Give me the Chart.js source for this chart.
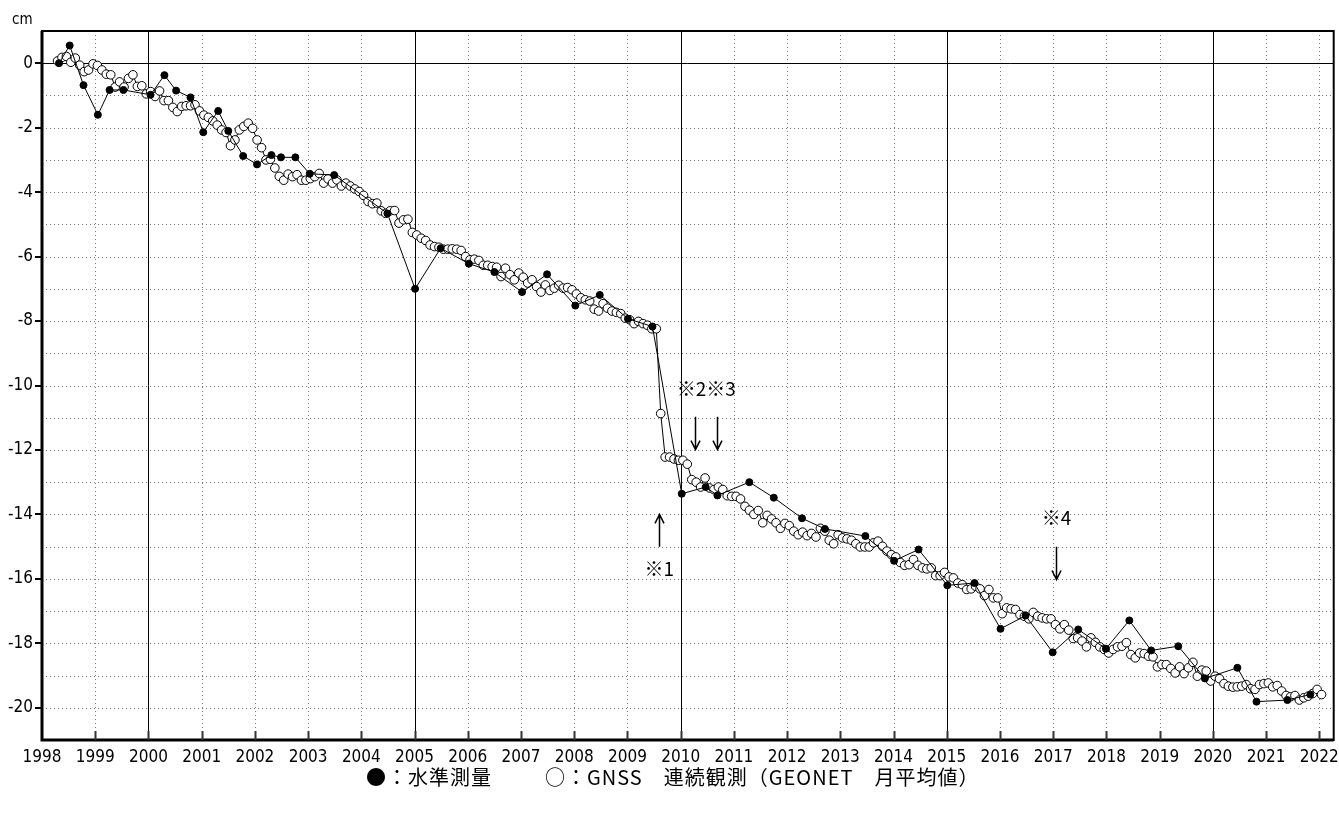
<!DOCTYPE html>
<html>
<head>
<meta charset="utf-8">
<script src="https://cdn.jsdelivr.net/npm/chart.js@4/dist/chart.umd.min.js"></script>
<style>
  html, body { margin: 0; padding: 0; background: #fff; }
</style>
</head>
<body>
<canvas id="chart" width="1339" height="820"></canvas>
<script>
// GNSS (GEONET) monthly means, cm, starting April 1998 - one row per calendar year
const gnssFirstYear = 1998;
const gnssFirstMonth = 4;
const gnssMonthly = [
    [0.07, 0.18, 0.21, 0.03, 0.16, -0.06, -0.26, -0.21, -0.02],                                   // 1998 (Apr-Dec)
    [-0.07, -0.21, -0.34, -0.36, -0.74, -0.58, -0.74, -0.47, -0.36, -0.72, -0.70, -0.95],          // 1999
    [-0.88, -1.03, -0.86, -1.16, -1.16, -1.37, -1.50, -1.34, -1.32, -1.32, -1.29, -1.48],          // 2000
    [-1.61, -1.68, -1.79, -1.92, -2.07, -2.15, -2.56, -2.38, -2.07, -1.96, -1.86, -2.02],          // 2001
    [-2.38, -2.62, -3.00, -2.98, -3.25, -3.51, -3.63, -3.44, -3.52, -3.46, -3.63, -3.63],          // 2002
    [-3.58, -3.52, -3.42, -3.72, -3.59, -3.72, -3.62, -3.81, -3.72, -3.81, -3.90, -3.98],          // 2003
    [-4.10, -4.29, -4.36, -4.34, -4.58, -4.66, -4.58, -4.57, -4.96, -4.86, -4.84, -5.25],          // 2004
    [-5.33, -5.43, -5.50, -5.64, -5.69, -5.71, -5.77, -5.77, -5.76, -5.77, -5.81, -6.00],          // 2005
    [-6.10, -6.08, -6.12, -6.27, -6.27, -6.31, -6.33, -6.62, -6.36, -6.56, -6.72, -6.51],          // 2006
    [-6.64, -6.82, -6.72, -6.93, -7.10, -6.88, -7.05, -6.98, -6.89, -6.98, -6.96, -7.03],          // 2007
    [-7.16, -7.28, -7.34, -7.38, -7.63, -7.69, -7.46, -7.60, -7.69, -7.73, -7.77, -7.91],          // 2008
    [-7.96, -8.08, -8.01, -8.08, -8.13, -8.24, -8.24, -10.87, -12.22, -12.22, -12.28, -12.32],     // 2009
    [-12.32, -12.44, -12.92, -13.00, -13.15, -12.87, -13.18, -13.23, -13.15, -13.23, -13.42, -13.44], // 2010
    [-13.44, -13.52, -13.75, -13.87, -14.00, -13.88, -14.26, -14.03, -14.14, -14.26, -14.43, -14.28], // 2011
    [-14.35, -14.52, -14.63, -14.55, -14.66, -14.59, -14.70, -14.43, -14.52, -14.80, -14.91, -14.63], // 2012
    [-14.73, -14.76, -14.80, -14.91, -15.01, -15.01, -15.01, -14.88, -14.83, -14.99, -15.14, -15.25], // 2013
    [-15.32, -15.49, -15.58, -15.56, -15.40, -15.58, -15.66, -15.69, -15.66, -15.90, -15.90, -15.80], // 2014
    [-15.94, -15.97, -16.13, -16.18, -16.33, -16.31, -16.23, -16.31, -16.52, -16.33, -16.59, -16.59], // 2015
    [-17.08, -16.90, -16.93, -16.95, -17.11, -17.16, -17.24, -17.04, -17.16, -17.21, -17.24, -17.24], // 2016
    [-17.42, -17.55, -17.42, -17.59, -17.85, -17.83, -17.93, -18.11, -17.83, -17.97, -18.11, -18.19], // 2017
    [-18.30, -18.19, -18.11, -18.09, -17.98, -18.35, -18.45, -18.30, -18.32, -18.40, -18.42, -18.73], // 2018
    [-18.66, -18.66, -18.78, -18.92, -18.73, -18.94, -18.76, -18.59, -19.02, -18.83, -18.86, -19.17], // 2019
    [-19.02, -19.10, -19.25, -19.33, -19.36, -19.35, -19.33, -19.28, -19.41, -19.43, -19.28, -19.25], // 2020
    [-19.23, -19.35, -19.31, -19.48, -19.62, -19.66, -19.62, -19.76, -19.69, -19.64, -19.56, -19.43], // 2021
    [-19.59]                                                                                      // 2022 (Jan)
];

// levelling survey (水準測量): survey dates as decimal years, heights in cm
const levelingDates = [
    1998.32, 1998.52, 1998.78, 1999.05, 1999.27, 1999.53, 2000.04, 2000.30, 2000.52, 2000.79,
    2001.03, 2001.31, 2001.50, 2001.78, 2002.04, 2002.31, 2002.49, 2002.76, 2003.03, 2003.49,
    2004.49, 2005.01, 2005.49, 2006.02, 2006.50, 2007.02, 2007.49, 2008.02, 2008.48, 2009.01,
    2009.47, 2010.02, 2010.47, 2010.69, 2011.29, 2011.75, 2012.28, 2012.71, 2013.47, 2014.01,
    2014.47, 2015.01, 2015.52, 2016.01, 2016.48, 2016.99, 2017.47, 2017.99, 2018.43, 2018.84,
    2019.35, 2019.85, 2020.46, 2020.82, 2021.40, 2021.83
];
const levelingValues = [
    0.00, 0.55, -0.68, -1.60, -0.83, -0.83, -0.98, -0.37, -0.85, -1.06,
    -2.14, -1.48, -2.10, -2.88, -3.14, -2.85, -2.92, -2.92, -3.43, -3.47,
    -4.66, -7.00, -5.74, -6.22, -6.48, -7.10, -6.55, -7.52, -7.19, -7.93,
    -8.17, -13.36, -13.15, -13.41, -13.00, -13.48, -14.12, -14.45, -14.67, -15.44,
    -15.09, -16.20, -16.13, -17.55, -17.14, -18.28, -17.57, -18.17, -17.29, -18.22,
    -18.09, -19.09, -18.76, -19.81, -19.76, -19.59
];

// axis ranges, year tick labels and the years drawn with a solid line
const xRange = [1998, 2022.27];
const yRange = [-21, 1];
const yearTicks = [1998, 1999, 2000, 2001, 2002, 2003, 2004, 2005, 2006, 2007, 2008, 2009,
    2010, 2011, 2012, 2013, 2014, 2015, 2016, 2017, 2018, 2019, 2020, 2021, 2022];
const majorYears = [2000, 2005, 2010, 2015, 2020];

// notes: label text and arrows (in data units)
const noteLabels = [
    { text: '※1', x: 2009.6, y: -15.68 },
    { text: '※2※3', x: 2010.48, y: -10.1 },
    { text: '※4', x: 2017.06, y: -14.1 }
];
const noteArrows = [
    { x: 2009.6, from: -15.0, to: -14.0 },
    { x: 2010.27, from: -10.97, to: -11.99 },
    { x: 2010.69, from: -10.97, to: -11.99 },
    { x: 2017.06, from: -15.0, to: -16.02 }
];
const legendLabels = ['●：水準測量', '○：GNSS　連続観測（GEONET　月平均値）'];
const unitLabel = 'cm';

const tickFont = "'Liberation Sans Narrow', 'DejaVu Sans Condensed', sans-serif";
const jpFont = "'Noto Sans CJK JP', sans-serif";

const gnssPoints = [];
gnssMonthly.forEach((row, r) => {
    row.forEach((v, m) => {
        const month = (r === 0 ? gnssFirstMonth : 1) + m;
        gnssPoints.push({ x: gnssFirstYear + r + (month - 0.5) / 12, y: v });
    });
});
const levelingPoints = levelingDates.map((d, i) => ({ x: d, y: levelingValues[i] }));

function arrow(ctx, px, y0, y1) {
    const dir = y1 > y0 ? 1 : -1;
    ctx.beginPath();
    ctx.moveTo(px, y0);
    ctx.lineTo(px, y1);
    ctx.moveTo(px - 4.5, y1 - dir * 9);
    ctx.lineTo(px, y1);
    ctx.lineTo(px + 4.5, y1 - dir * 9);
    ctx.stroke();
}

const chartDecor = {
    id: 'chartDecor',
    beforeDatasetsDraw(chart) {
        const { ctx, chartArea: a, scales: { x, y } } = chart;
        ctx.save();
        ctx.lineWidth = 1;
        // dotted grid
        ctx.strokeStyle = '#7a7a7a';
        ctx.setLineDash([1, 3]);
        ctx.beginPath();
        yearTicks.forEach(yr => {
            if (yr === xRange[0] || majorYears.includes(yr)) return;
            const px = Math.round(x.getPixelForValue(yr)) + 0.5;
            ctx.moveTo(px, a.top);
            ctx.lineTo(px, a.bottom);
        });
        for (let v = y.min + 1; v < y.max; v++) {
            if (v === 0) continue;
            const py = Math.round(y.getPixelForValue(v)) + 0.5;
            ctx.moveTo(a.left, py);
            ctx.lineTo(a.right, py);
        }
        ctx.stroke();
        // solid lines: every 5 years and the zero line
        ctx.setLineDash([]);
        ctx.strokeStyle = '#000';
        ctx.beginPath();
        majorYears.forEach(yr => {
            const px = Math.round(x.getPixelForValue(yr)) + 0.5;
            ctx.moveTo(px, a.top);
            ctx.lineTo(px, a.bottom);
        });
        const py0 = Math.round(y.getPixelForValue(0)) + 0.5;
        ctx.moveTo(a.left, py0);
        ctx.lineTo(a.right, py0);
        ctx.stroke();
        ctx.restore();
    },
    afterDatasetsDraw(chart) {
        const { ctx, chartArea: a, scales: { x, y } } = chart;
        ctx.save();
        // frame
        ctx.strokeStyle = '#000';
        ctx.lineWidth = 2;
        ctx.strokeRect(a.left, a.top, a.right - a.left, a.bottom - a.top);
        ctx.lineWidth = 3;
        ctx.beginPath();
        ctx.moveTo(a.left, a.top);
        ctx.lineTo(a.left, a.bottom);
        ctx.lineTo(a.right, a.bottom);
        ctx.stroke();
        // y ticks outside, x ticks inside
        ctx.lineWidth = 2;
        ctx.beginPath();
        for (let v = y.min + 1; v < y.max; v++) {
            if (v % 2 !== 0) continue;
            const py = Math.round(y.getPixelForValue(v));
            ctx.moveTo(a.left - 7, py);
            ctx.lineTo(a.left, py);
        }
        ctx.stroke();
        ctx.strokeStyle = '#333';
        ctx.beginPath();
        yearTicks.forEach(yr => {
            if (yr === xRange[0]) return;
            const px = Math.round(x.getPixelForValue(yr)) + 0.5;
            ctx.moveTo(px, a.bottom);
            ctx.lineTo(px, a.bottom - 9);
        });
        ctx.stroke();

        // notes
        ctx.strokeStyle = '#000';
        ctx.lineWidth = 1.5;
        noteArrows.forEach(n => {
            arrow(ctx, Math.round(x.getPixelForValue(n.x)) + 0.5,
                y.getPixelForValue(n.from), y.getPixelForValue(n.to));
        });
        ctx.fillStyle = '#000';
        ctx.font = '19px ' + jpFont;
        ctx.textAlign = 'center';
        ctx.textBaseline = 'middle';
        noteLabels.forEach(n => {
            ctx.fillText(n.text, x.getPixelForValue(n.x), y.getPixelForValue(n.y));
        });

        // unit and legend
        ctx.font = '15px ' + tickFont;
        ctx.textAlign = 'left';
        ctx.fillText(unitLabel, 12, 20);
        ctx.font = '20px ' + jpFont;
        ctx.letterSpacing = '1px';
        ctx.fillText(legendLabels[0], 366, 777);
        ctx.fillText(legendLabels[1], 545, 777);
        ctx.restore();
    }
};

new Chart(document.getElementById('chart'), {
    type: 'line',
    data: {
        datasets: [{
            label: '水準測量',
            data: levelingPoints,
            borderColor: '#000',
            borderWidth: 1,
            pointRadius: 3.5,
            pointBackgroundColor: '#000',
            pointBorderColor: '#000',
            pointBorderWidth: 1,
            tension: 0
        }, {
            label: 'GNSS 連続観測',
            data: gnssPoints,
            borderColor: '#000',
            borderWidth: 1,
            pointRadius: 4.3,
            pointBackgroundColor: '#fff',
            pointBorderColor: '#000',
            pointBorderWidth: 1,
            tension: 0
        }]
    },
    options: {
        responsive: false,
        animation: false,
        layout: { padding: { top: 31, right: 2, left: 0, bottom: 0 } },
        plugins: { legend: { display: false }, tooltip: { enabled: false } },
        scales: {
            x: {
                type: 'linear',
                min: xRange[0],
                max: xRange[1],
                grid: { display: false, drawTicks: false },
                border: { display: false },
                afterFit: s => {
                    s.height = 80;
                    s.paddingLeft = 0;
                    s.paddingRight = 0;
                },
                afterBuildTicks: s => {
                    s.ticks = yearTicks.map(v => ({ value: v }));
                },
                ticks: {
                    autoSkip: false,
                    maxRotation: 0,
                    padding: 7,
                    color: '#000',
                    font: { family: tickFont, size: 17 },
                    callback: v => String(v)
                }
            },
            y: {
                type: 'linear',
                min: yRange[0],
                max: yRange[1],
                grid: { display: false, drawTicks: false },
                border: { display: false },
                afterFit: s => {
                    s.width = 42;
                    s.paddingTop = 0;
                    s.paddingBottom = 0;
                },
                ticks: {
                    stepSize: 1,
                    autoSkip: false,
                    padding: 9,
                    color: '#000',
                    font: { family: tickFont, size: 17 },
                    callback: v => (v % 2 === 0 ? String(v) : '')
                }
            }
        }
    },
    plugins: [chartDecor]
});
</script>
</body>
</html>
